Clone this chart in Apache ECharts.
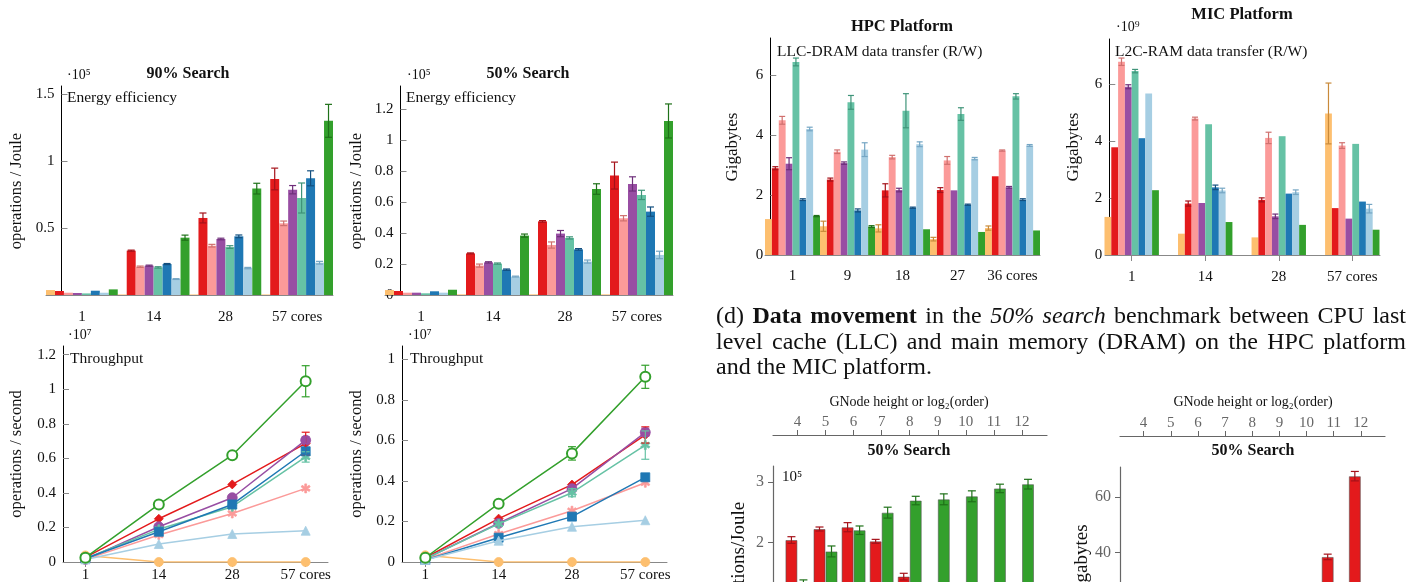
<!DOCTYPE html>
<html>
<head>
<meta charset="utf-8">
<script src="https://cdn.jsdelivr.net/npm/echarts@6/dist/echarts.min.js"></script>
<style>
  html, body { margin: 0; padding: 0; background: #fff; }
  #main { width: 1410px; height: 582px; }
</style>
</head>
<body>
<div id="main"></div>
<script>
(function () {
  'use strict';

  var FONT = '"Liberation Serif", "Times New Roman", serif';

  // 数据 ---------------------------------------------------------------
  // series order everywhere: orange, red, pink, purple, teal, blue, light blue, green
  var coreLabels = ['1', '14', '28', '57 cores'];
  var hpcCores = ['1', '9', '18', '27', '36 cores'];
  var gnodeTicks = [4, 5, 6, 7, 8, 9, 10, 11, 12];

  var energy90 = [
    [0.037, 0.004, 0.004, 0.004],
    [0.030, 0.331, 0.575, 0.866],
    [0.017, 0.211, 0.368, 0.535],
    [0.015, 0.219, 0.418, 0.786],
    [0.012, 0.206, 0.358, 0.724],
    [0.032, 0.231, 0.438, 0.871],
    [0.017, 0.119, 0.201, 0.241],
    [0.042, 0.428, 0.794, 1.300]
  ];
  var energy90Err = [
    [0, 0, 0, 0],
    [0, 0.004, 0.037, 0.081],
    [0, 0.005, 0.010, 0.017],
    [0, 0.004, 0.006, 0.031],
    [0, 0.005, 0.010, 0.112],
    [0, 0.004, 0.010, 0.056],
    [0, 0.003, 0.005, 0.010],
    [0, 0.019, 0.040, 0.123]
  ];
  var energy50 = [
    [0.032, 0.004, 0.004, 0.004],
    [0.026, 0.269, 0.476, 0.772],
    [0.015, 0.190, 0.323, 0.496],
    [0.015, 0.211, 0.397, 0.718],
    [0.011, 0.203, 0.369, 0.647],
    [0.024, 0.164, 0.295, 0.539],
    [0.015, 0.119, 0.216, 0.259],
    [0.034, 0.384, 0.685, 1.125]
  ];
  var energy50Err = [
    [0, 0, 0, 0],
    [0, 0.003, 0.005, 0.087],
    [0, 0.010, 0.020, 0.017],
    [0, 0.004, 0.020, 0.046],
    [0, 0.004, 0.007, 0.030],
    [0, 0.004, 0.005, 0.030],
    [0, 0.003, 0.010, 0.024],
    [0, 0.010, 0.034, 0.110]
  ];

  var thr90 = [
    [0.038, 0, 0, 0],
    [0.027, 0.250, 0.449, 0.686],
    [0.015, 0.156, 0.281, 0.426],
    [0.015, 0.204, 0.372, 0.705],
    [0.020, 0.189, 0.320, 0.608],
    [0.020, 0.175, 0.333, 0.641],
    [0.015, 0.104, 0.162, 0.181],
    [0.025, 0.333, 0.618, 1.046]
  ];
  var thr90Err = [
    [0, 0, 0, 0],
    [0, 0, 0, 0.065],
    [0, 0, 0, 0],
    [0, 0, 0, 0.02],
    [0, 0, 0, 0.03],
    [0, 0, 0, 0.02],
    [0, 0, 0, 0],
    [0, 0, 0, 0.09]
  ];
  var thr50 = [
    [0.033, 0, 0, 0],
    [0.021, 0.214, 0.382, 0.627],
    [0.013, 0.138, 0.253, 0.391],
    [0.016, 0.191, 0.362, 0.640],
    [0.016, 0.188, 0.342, 0.577],
    [0.010, 0.120, 0.224, 0.418],
    [0.010, 0.105, 0.174, 0.206],
    [0.021, 0.288, 0.536, 0.914]
  ];
  var thr50Err = [
    [0, 0, 0, 0],
    [0, 0, 0, 0.04],
    [0, 0, 0, 0],
    [0, 0, 0, 0.02],
    [0, 0, 0.02, 0.07],
    [0, 0, 0, 0],
    [0, 0, 0, 0],
    [0, 0, 0.033, 0.057]
  ];

  var hpcGB = [
    [1.20, 0.96, 0.89, 0.53, 0.90],
    [2.90, 2.52, 2.16, 2.17, 2.63],
    [4.50, 3.45, 3.27, 3.16, 3.49],
    [3.05, 3.07, 2.17, 2.16, 2.26],
    [6.45, 5.10, 4.82, 4.71, 5.30],
    [1.85, 1.49, 1.58, 1.68, 1.85],
    [4.21, 3.52, 3.70, 3.22, 3.66],
    [1.30, 0.95, 0.86, 0.77, 0.82]
  ];
  var hpcErr = [
    [0, 0.17, 0.12, 0.06, 0.07],
    [0.05, 0.05, 0.22, 0.08, 0],
    [0.13, 0.06, 0.06, 0.13, 0.02],
    [0.20, 0.04, 0.06, 0, 0.03],
    [0.13, 0.23, 0.57, 0.21, 0.09],
    [0.03, 0.05, 0.02, 0.02, 0.03],
    [0.06, 0.23, 0.08, 0.04, 0.03],
    [0.02, 0.03, 0, 0, 0]
  ];
  var micGB = [
    [1.34, 0.75, 0.62, 4.98],
    [3.79, 1.81, 1.94, 1.65],
    [6.80, 4.80, 4.12, 3.85],
    [5.92, 1.83, 1.36, 1.28],
    [6.47, 4.60, 4.18, 3.91],
    [4.11, 2.38, 2.16, 1.88],
    [5.68, 2.27, 2.21, 1.63],
    [2.28, 1.16, 1.06, 0.89]
  ];
  var micErr = [
    [0, 0, 0, 1.07],
    [0, 0.09, 0.07, 0],
    [0.13, 0.05, 0.20, 0.10],
    [0.07, 0, 0.08, 0],
    [0.06, 0, 0, 0],
    [0, 0.08, 0, 0],
    [0, 0.08, 0.08, 0.15],
    [0, 0, 0, 0]
  ];

  var gnJouleRed = [2.038, 2.22, 2.25, 2.016, 1.434, null, null, null, null];
  var gnJouleRedErr = [0.055, 0.033, 0.075, 0.033, 0.055, 0, 0, 0, 0];
  var gnJouleGreen = [1.33, 1.85, 2.20, 2.49, 2.69, 2.71, 2.76, 2.89, 2.96];
  var gnJouleGreenErr = [0.05, 0.09, 0.07, 0.09, 0.07, 0.09, 0.09, 0.07, 0.08];
  var gnGBRed = [null, null, null, null, null, null, null, 38.4, 67.5];
  var gnGBRedErr = [0, 0, 0, 0, 0, 0, 0, 1.0, 1.7];

  var e90Ticks = [0, 0.5, 1, 1.5];
  var e50Ticks = [0, 0.2, 0.4, 0.6, 0.8, 1, 1.2];
  var t90Ticks = [0, 0.2, 0.4, 0.6, 0.8, 1, 1.2];
  var t50Ticks = [0, 0.2, 0.4, 0.6, 0.8, 1];
  var gbTicks = [0, 2, 4, 6];
  var jouleTicks = [0, 1, 2, 3];
  var gnGBTicks = [0, 20, 40, 60];

  // 样式 ---------------------------------------------------------------
  var colors = ['#fdbf6f', '#e31a1c', '#fb9a99', '#984ea3', '#66c2a5', '#1f78b4', '#a6cee3', '#33a02c'];
  var errColors = ['#c98a3a', '#a5121a', '#d0706e', '#6e2f7a', '#3f9479', '#134f7f', '#75a6c4', '#1f7119'];
  var names = ['A', 'B', 'C', 'D', 'E', 'F', 'G', 'H'];
  var asterisk = 'path://M4,0L6,0L6,3.3L8.9,1.6L9.9,3.4L7,5L9.9,6.6L8.9,8.4L6,6.7L6,10L4,10L4,6.7L1.1,8.4L0.1,6.6L3,5L0.1,3.4L1.1,1.6L4,3.3Z';
  var symbols = ['circle', 'diamond', asterisk, 'circle', asterisk, 'rect', 'triangle', 'emptyCircle'];
  var symbolSizes = [9, 9, 9, 10, 9, 9, 9, 10];

  function range(n) { var a = []; for (var i = 0; i < n; i++) a.push(i); return a; }

  function errorBars(gi, pos, count, barPx, xs, vals, errs, color, cap) {
    var data = [];
    for (var i = 0; i < vals.length; i++) {
      if (vals[i] != null && errs[i]) data.push([xs[i], vals[i] - errs[i], vals[i] + errs[i]]);
    }
    return {
      type: 'custom', xAxisIndex: gi, yAxisIndex: gi, z: 10, silent: true,
      encode: { x: 0, y: [1, 2] },
      renderItem: function (params, api) {
        var bw = barPx || api.size([1, 0])[0] / count;
        var x = api.coord([api.value(0), api.value(1)])[0] + (pos - (count - 1) / 2) * bw;
        var lo = api.coord([api.value(0), api.value(1)])[1];
        var hi = api.coord([api.value(0), api.value(2)])[1];
        var st = { stroke: color, lineWidth: 1.2 };
        return {
          type: 'group', children: [
            { type: 'line', shape: { x1: x, y1: lo, x2: x, y2: hi }, style: st },
            { type: 'line', shape: { x1: x - cap, y1: hi, x2: x + cap, y2: hi }, style: st },
            { type: 'line', shape: { x1: x - cap, y1: lo, x2: x + cap, y2: lo }, style: st }
          ]
        };
      },
      data: data
    };
  }

  function catXAxis(gi, cats, margin) {
    return {
      type: 'category', gridIndex: gi, data: cats,
      axisLine: { onZero: false, lineStyle: { color: '#888', width: 1 } },
      axisTick: { alignWithLabel: true, length: 6, lineStyle: { color: '#888' } },
      axisLabel: { interval: 0, margin: margin, fontSize: 15, color: '#111', fontFamily: FONT },
      splitLine: { show: false }
    };
  }

  function valXAxis(gi, min, max, ticks, labels, margin) {
    return {
      type: 'value', gridIndex: gi, min: min, max: max,
      axisLine: { onZero: false, lineStyle: { color: '#888', width: 1 } },
      axisTick: { customValues: ticks, length: 5, lineStyle: { color: '#888' } },
      axisLabel: {
        customValues: ticks, margin: margin, fontSize: 15, color: '#111', fontFamily: FONT,
        formatter: function (v) { return labels[Math.round(v)]; }
      },
      splitLine: { show: false }
    };
  }

  function yAxisDef(gi, max, tickVals, labelVals, offset) {
    return {
      type: 'value', gridIndex: gi, min: 0, max: max, offset: offset,
      axisLine: { show: true, onZero: false, lineStyle: { color: '#000', width: 1 } },
      axisTick: { show: true, inside: true, length: 6, customValues: tickVals, lineStyle: { color: '#888' } },
      axisLabel: { customValues: labelVals, margin: 7, fontSize: 15, color: '#111', fontFamily: FONT },
      splitLine: { show: false }
    };
  }

  function gnodeAxis(gi) {
    return {
      type: 'value', gridIndex: gi, position: 'top', offset: 31, min: 3.13, max: 12.89,
      axisLine: { onZero: false, lineStyle: { color: '#666', width: 1.2 } },
      axisTick: { customValues: gnodeTicks, length: 5, lineStyle: { color: '#666' } },
      axisLabel: { customValues: gnodeTicks, margin: 5, fontSize: 15, color: '#666', fontFamily: FONT },
      splitLine: { show: false }
    };
  }

  function grayYAxis(gi, max, ticks) {
    return {
      type: 'value', gridIndex: gi, min: 0, max: max,
      axisLine: { show: true, onZero: false, lineStyle: { color: '#666', width: 1.2 } },
      axisTick: { show: true, length: 5, customValues: ticks, lineStyle: { color: '#666' } },
      axisLabel: { customValues: ticks, margin: 9, fontSize: 16, color: '#666', fontFamily: FONT },
      splitLine: { show: false }
    };
  }

  var grids = [
    { left: 46, top: 86, width: 287, height: 209 },      // 0 energy 90
    { left: 385, top: 86, width: 288, height: 209 },     // 1 energy 50
    { left: 63, top: 346, width: 265, height: 216 },     // 2 throughput 90
    { left: 402, top: 346, width: 265, height: 216 },    // 3 throughput 50
    { left: 765, top: 38, width: 275, height: 217 },     // 4 HPC
    { left: 1105, top: 39, width: 275, height: 216 },    // 5 MIC
    { left: 773, top: 466, width: 274, height: 197.5 },  // 6 GNode joule
    { left: 1120, top: 467, width: 265, height: 196.5 }  // 7 GNode GB
  ].map(function (g) { g.containLabel = false; g.outerBoundsMode = 'none'; return g; });

  var xAxes = [
    catXAxis(0, coreLabels, 15),
    catXAxis(1, coreLabels, 15),
    valXAxis(2, -0.305, 3.304, [0, 1, 2, 3], coreLabels, 6),
    valXAxis(3, -0.318, 3.296, [0, 1, 2, 3], coreLabels, 6),
    catXAxis(4, hpcCores, 14),
    valXAxis(5, -0.363, 3.377, [0, 1, 2, 3], coreLabels, 15),
    gnodeAxis(6),
    gnodeAxis(7)
  ];
  xAxes[5].axisTick.length = 6;

  var yAxes = [
    yAxisDef(0, 1.56, e90Ticks, [0.5, 1, 1.5], -15.5),
    yAxisDef(1, 1.351, e50Ticks, e50Ticks, -15.5),
    yAxisDef(2, 1.25, t90Ticks, t90Ticks, 0),
    yAxisDef(3, 1.066, t50Ticks, t50Ticks, 0),
    yAxisDef(4, 7.25, gbTicks, gbTicks, -5.3),
    yAxisDef(5, 7.6, gbTicks, gbTicks, -4.3),
    grayYAxis(6, 3.26, jouleTicks),
    grayYAxis(7, 70.8, gnGBTicks)
  ];

  var series = [];

  // grouped bars on category axes
  function catBars(gi, vals, errs, cap) {
    vals.forEach(function (v, s) {
      series.push({
        name: names[s], type: 'bar', xAxisIndex: gi, yAxisIndex: gi, data: v,
        barGap: '0%', barCategoryGap: '0%',
        itemStyle: { color: colors[s] }
      });
      series.push(errorBars(gi, s, vals.length, 0, range(v.length), v, errs[s], errColors[s], cap));
    });
  }
  catBars(0, energy90, energy90Err, 3.5);
  catBars(1, energy50, energy50Err, 3.5);
  catBars(4, hpcGB, hpcErr, 3);

  // MIC bars on a value axis
  micGB.forEach(function (v, s) {
    series.push({
      name: names[s], type: 'bar', xAxisIndex: 5, yAxisIndex: 5,
      data: v.map(function (y, i) { return [i, y]; }),
      barWidth: 6.8, barGap: '0%',
      itemStyle: { color: colors[s] }
    });
    series.push(errorBars(5, s, 8, 6.8, range(v.length), v, micErr[s], errColors[s], 3));
  });

  // throughput lines
  function lines(gi, vals, errs) {
    vals.forEach(function (v, s) {
      series.push({
        name: names[s], type: 'line', xAxisIndex: gi, yAxisIndex: gi,
        data: v.map(function (y, i) { return [i, y]; }),
        symbol: symbols[s], symbolSize: symbolSizes[s],
        lineStyle: { color: colors[s], width: 1.5 },
        itemStyle: { color: colors[s], borderColor: colors[s], borderWidth: s === 7 ? 1.6 : 0.8 },
        z: 3 + s
      });
      series.push(errorBars(gi, 0, 1, 1, range(v.length), v, errs[s], colors[s], 4));
    });
  }
  lines(2, thr90, thr90Err);
  lines(3, thr50, thr50Err);

  // GNode bar charts
  function gnBars(gi, red, redErr, green, greenErr) {
    [[red, redErr, 1], [green, greenErr, 7]].forEach(function (d, k) {
      series.push({
        name: names[d[2]], type: 'bar', xAxisIndex: gi, yAxisIndex: gi,
        data: d[0].map(function (y, i) { return [gnodeTicks[i], y]; }),
        barWidth: 12, barGap: '0%',
        itemStyle: { color: colors[d[2]], borderColor: 'rgba(80,80,80,0.55)', borderWidth: 1 }
      });
      series.push(errorBars(gi, k, 2, 12, gnodeTicks, d[0], d[1], errColors[d[2]], 4));
    });
  }
  gnBars(6, gnJouleRed, gnJouleRedErr, gnJouleGreen, gnJouleGreenErr);
  gnBars(7, gnGBRed, gnGBRedErr, gnGBRed.map(function () { return null; }), gnGBRedErr);

  // 文字 ---------------------------------------------------------------
  function txt(x, y, text, size, o) {
    o = o || {};
    return {
      type: 'text', x: x, y: y, rotation: o.rot || 0, silent: true,
      style: {
        text: text, fill: o.color || '#111', fontFamily: FONT, fontSize: size,
        fontWeight: o.weight || 'normal', fontStyle: o.italic ? 'italic' : 'normal',
        align: o.align || 'left', verticalAlign: 'middle'
      }
    };
  }
  var ROT = Math.PI / 2;
  var graphics = [
    txt(67, 75, '·10⁵', 14), txt(188, 74, '90% Search', 16, { weight: 'bold', align: 'center' }),
    txt(67, 98, 'Energy efficiency', 15.5),
    txt(17, 191, 'operations / Joule', 16.5, { rot: ROT, align: 'center' }),
    txt(407, 75, '·10⁵', 14), txt(528, 74, '50% Search', 16, { weight: 'bold', align: 'center' }),
    txt(406, 98, 'Energy efficiency', 15.5),
    txt(357, 191, 'operations / Joule', 16.5, { rot: ROT, align: 'center' }),
    txt(68, 335, '·10⁷', 14), txt(70, 359, 'Throughput', 15.5),
    txt(17, 454, 'operations / second', 16.5, { rot: ROT, align: 'center' }),
    txt(408, 335, '·10⁷', 14), txt(410, 359, 'Throughput', 15.5),
    txt(357, 454, 'operations / second', 16.5, { rot: ROT, align: 'center' }),
    txt(902, 27, 'HPC Platform', 16.5, { weight: 'bold', align: 'center' }),
    txt(777, 52, 'LLC-DRAM data transfer (R/W)', 15.5),
    txt(733, 147, 'Gigabytes', 17, { rot: ROT, align: 'center' }),
    txt(1242, 15, 'MIC Platform', 16.5, { weight: 'bold', align: 'center' }),
    txt(1116, 27, '·10⁹', 14),
    txt(1115, 52, 'L2C-RAM data transfer (R/W)', 15.5),
    txt(1074, 147, 'Gigabytes', 17, { rot: ROT, align: 'center' }),
    txt(909, 402, 'GNode height or log₂(order)', 14, { align: 'center' }),
    txt(909, 451, '50% Search', 16, { weight: 'bold', align: 'center' }),
    txt(782, 477, '10⁵', 15),
    txt(739, 564, 'operations/Joule', 19, { rot: ROT, align: 'center' }),
    txt(1253, 402, 'GNode height or log₂(order)', 14, { align: 'center' }),
    txt(1253, 451, '50% Search', 16, { weight: 'bold', align: 'center' }),
    txt(1082, 563, 'Gigabytes', 19, { rot: ROT, align: 'center' })
  ];

  // justified caption lines
  var CAP = 24;
  var ctx = document.createElement('canvas').getContext('2d');
  function justify(words, x0, x1, y) {
    var widths = words.map(function (w) {
      ctx.font = (w[1] === 'italic' ? 'italic ' : '') + (w[1] === 'bold' ? 'bold ' : '') + CAP + 'px ' + FONT;
      return ctx.measureText(w[0]).width;
    });
    var total = widths.reduce(function (a, b) { return a + b; }, 0);
    var gap = (x1 - x0 - total) / (words.length - 1);
    var x = x0;
    words.forEach(function (w, i) {
      graphics.push(txt(x, y, w[0], CAP, { weight: w[1] === 'bold' ? 'bold' : 'normal', italic: w[1] === 'italic' }));
      x += widths[i] + gap;
    });
  }
  justify([['(d)'], ['Data', 'bold'], ['movement', 'bold'], ['in'], ['the'], ['50%', 'italic'], ['search', 'italic'],
    ['benchmark'], ['between'], ['CPU'], ['last']], 716, 1406, 317);
  justify('level cache (LLC) and main memory (DRAM) on the HPC platform'.split(' ').map(function (w) { return [w]; }),
    716, 1406, 342.5);
  graphics.push(txt(716, 368, 'and the MIC platform.', CAP));

  var myChart = echarts.init(document.getElementById('main'));
  myChart.setOption({
    animation: false,
    textStyle: { fontFamily: FONT },
    grid: grids,
    xAxis: xAxes,
    yAxis: yAxes,
    series: series,
    graphic: graphics
  });
}());
</script>
</body>
</html>
